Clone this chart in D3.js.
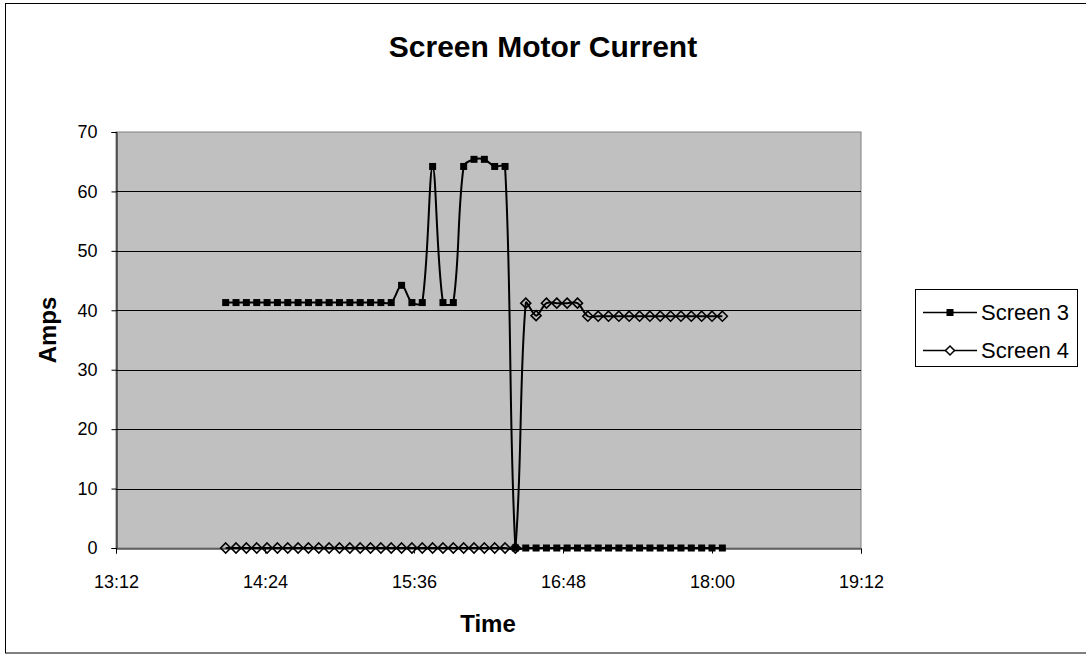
<!DOCTYPE html>
<html>
<head>
<meta charset="utf-8">
<script src="https://cdn.jsdelivr.net/npm/d3@7"></script>
<style>
  html, body { margin: 0; padding: 0; background: #fff; }
  svg { display: block; font-family: "Liberation Sans", Arial, sans-serif; }
</style>
</head>
<body>
<svg id="chart" width="1086" height="656"></svg>
<script>
// ---- data ----
const times = ["14:05","14:10","14:15","14:20","14:25","14:30","14:35","14:40","14:45","14:50",
  "14:55","15:00","15:05","15:10","15:15","15:20","15:25","15:30","15:35","15:40",
  "15:45","15:50","15:55","16:00","16:05","16:10","16:15","16:20","16:25","16:30",
  "16:35","16:40","16:45","16:50","16:55","17:00","17:05","17:10","17:15","17:20",
  "17:25","17:30","17:35","17:40","17:45","17:50","17:55","18:00","18:05"];
const screen3 = [41.3,41.3,41.3,41.3,41.3,41.3,41.3,41.3,41.3,41.3,
  41.3,41.3,41.3,41.3,41.3,41.3,41.3,44.2,41.3,41.3,
  64.2,41.3,41.3,64.2,65.4,65.4,64.2,64.2,0,0,
  0,0,0,0,0,0,0,0,0,0,
  0,0,0,0,0,0,0,0,0];
const screen4 = [0,0,0,0,0,0,0,0,0,0,
  0,0,0,0,0,0,0,0,0,0,
  0,0,0,0,0,0,0,0,0,41.2,
  39.1,41.2,41.2,41.2,41.2,39,39,39,39,39,
  39,39,39,39,39,39,39,39,39];
const xTickLabels = ["13:12","14:24","15:36","16:48","18:00","19:12"];
const yTicks = [0,10,20,30,40,50,60,70];
const seriesNames = ["Screen 3","Screen 4"];

// ---- helpers ----
const toMin = s => { const [h,m] = s.split(":").map(Number); return h*60+m; };

const svg = d3.select("#chart");
const plot = {left:116, right:861, top:132, bottom:548};

const x = d3.scaleLinear().domain([toMin(xTickLabels[0]), toMin(xTickLabels[xTickLabels.length-1])]).range([plot.left, plot.right]);
const y = d3.scaleLinear().domain([0,70]).range([plot.bottom, plot.top]);

// Excel-like smoothed line: Bezier with tangents (p[i+1]-p[i-1]) scaled by segment length
function smoothPath(pts) {
  const p = d3.path();
  const n = pts.length;
  const dist = (a,b) => Math.hypot(b[0]-a[0], b[1]-a[1]);
  p.moveTo(pts[0][0], pts[0][1]);
  for (let i = 0; i < n-1; i++) {
    const p0 = pts[Math.max(i-1,0)], p1 = pts[i], p2 = pts[i+1], p3 = pts[Math.min(i+2,n-1)];
    const d01 = dist(p0,p1), d12 = dist(p1,p2), d23 = dist(p2,p3);
    const f1 = (d01 + d12) > 0 ? d12 / (3*(d01 + d12)) : 0;
    const f2 = (d12 + d23) > 0 ? d12 / (3*(d12 + d23)) : 0;
    const c1 = [p1[0] + (p2[0]-p0[0])*f1, p1[1] + (p2[1]-p0[1])*f1];
    const c2 = [p2[0] - (p3[0]-p1[0])*f2, p2[1] - (p3[1]-p1[1])*f2];
    p.bezierCurveTo(c1[0], c1[1], c2[0], c2[1], p2[0], p2[1]);
  }
  return p.toString();
}

// outer border
svg.append("rect").attr("x",5.5).attr("y",3.5).attr("width",1090).attr("height",649.5)
  .attr("fill","#fff").attr("stroke","#000").attr("stroke-width",1);

// plot area
svg.append("rect").attr("x",plot.left).attr("y",plot.top)
  .attr("width",plot.right-plot.left).attr("height",plot.bottom-plot.top)
  .attr("fill","#c0c0c0").attr("stroke","#808080").attr("stroke-width",1);

// gridlines
svg.append("g").selectAll("line").data(yTicks.filter(d => d>0 && d<70)).join("line")
  .attr("x1",plot.left).attr("x2",plot.right)
  .attr("y1",d=>Math.round(y(d))+0.5).attr("y2",d=>Math.round(y(d))+0.5)
  .attr("stroke","#000").attr("stroke-width",1);

// y axis
const yAxis = d3.axisLeft(y).tickValues(yTicks).tickSize(5).tickPadding(14).tickFormat(d3.format("d"));
const gy = svg.append("g").attr("transform",`translate(${plot.left+0.5},0)`).call(yAxis);
gy.select(".domain").attr("stroke","#000");
gy.selectAll(".tick line").attr("stroke","#000");
gy.selectAll("text").attr("font-size",18).attr("fill","#000").attr("font-family","Liberation Sans, Arial, sans-serif");

// x axis
const xAxis = d3.axisBottom(x).tickValues(xTickLabels.map(toMin)).tickSize(5).tickPadding(22)
  .tickFormat((d,i) => xTickLabels[i]);
const gx = svg.append("g").attr("transform",`translate(0,${plot.bottom+0.5})`).call(xAxis);
gx.select(".domain").attr("stroke","#000");
gx.selectAll(".tick line").attr("stroke","#000");
gx.selectAll("text").attr("font-size",18).attr("fill","#000").attr("font-family","Liberation Sans, Arial, sans-serif");

// titles
svg.append("text").attr("x",543).attr("y",57).attr("text-anchor","middle")
  .attr("font-size",30).attr("font-weight","bold").text("Screen Motor Current");
svg.append("text").attr("x",488).attr("y",632).attr("text-anchor","middle")
  .attr("font-size",24).attr("font-weight","bold").text("Time");
svg.append("text").attr("transform","translate(56,330) rotate(-90)").attr("text-anchor","middle")
  .attr("font-size",24).attr("font-weight","bold").text("Amps");

// series
const pts3 = times.map((t,i) => [x(toMin(t)), y(screen3[i])]);
const pts4 = times.map((t,i) => [x(toMin(t)), y(screen4[i])]);

svg.append("path").attr("d",smoothPath(pts3)).attr("fill","none").attr("stroke","#000").attr("stroke-width",2);
svg.append("g").selectAll("rect").data(pts3).join("rect")
  .attr("x",d=>d[0]-3.5).attr("y",d=>d[1]-3.5).attr("width",7).attr("height",7).attr("fill","#000");

svg.append("path").attr("d",smoothPath(pts4)).attr("fill","none").attr("stroke","#000").attr("stroke-width",2);
const diamond = (cx,cy,r) => `M${cx},${cy-r}L${cx+r},${cy}L${cx},${cy+r}L${cx-r},${cy}Z`;
svg.append("g").selectAll("path").data(pts4).join("path")
  .attr("d",d=>diamond(d[0],d[1],5)).attr("fill","none").attr("stroke","#000").attr("stroke-width",1.6);

// legend
const lg = svg.append("g");
lg.append("rect").attr("x",915.5).attr("y",289.5).attr("width",162).attr("height",77)
  .attr("fill","#fff").attr("stroke","#000").attr("stroke-width",1);
seriesNames.forEach((name,i) => {
  const cy = 312 + i*38;
  lg.append("line").attr("x1",923).attr("x2",977).attr("y1",cy+0.5).attr("y2",cy+0.5)
    .attr("stroke","#000").attr("stroke-width",1.6);
  if (i===0) {
    lg.append("rect").attr("x",946.5).attr("y",cy-3).attr("width",7).attr("height",7).attr("fill","#000");
  } else {
    lg.append("path").attr("d",diamond(950,cy+0.5,4.5)).attr("fill","#fff").attr("stroke","#000").attr("stroke-width",1.5);
  }
  lg.append("text").attr("x",981).attr("y",cy+8).attr("font-size",22).text(name);
});
</script>
</body>
</html>
